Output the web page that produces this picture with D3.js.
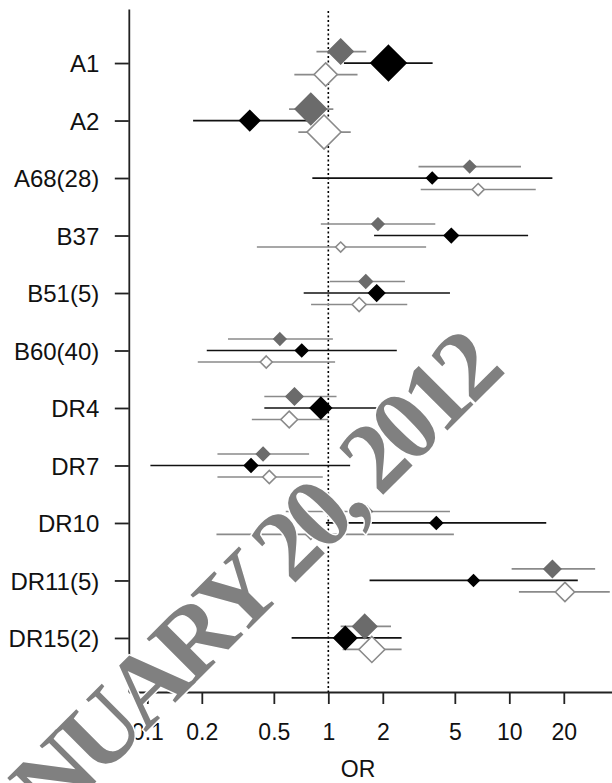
<!DOCTYPE html>
<html>
<head>
<meta charset="utf-8">
<script src="https://d3js.org/d3.v7.min.js"></script>
<style>
    body { margin: 0; background: #fff; }
    text { font-family: "Liberation Sans", Arial, sans-serif; fill: #111; }
    .axis path, .axis line { stroke: #222; stroke-width: 1.8px; }
    .axis text { font-size: 24px; }
</style>
</head>
<body>
<div id="chart"></div>
<script>
// categories, top to bottom
var categories = ["A1", "A2", "A68(28)", "B37", "B51(5)", "B60(40)", "DR4", "DR7", "DR10", "DR11(5)", "DR15(2)"];

// series 1 (dark grey, upper)
var greyOR = [1.17, 0.80, 6.04, 1.88, 1.61, 0.54, 0.65, 0.436, 1.64, 17.3, 1.59];
var greyLo = [0.86, 0.607, 3.15, 0.909, 1.02, 0.279, 0.443, 0.244, 0.582, 10.3, 1.17];
var greyHi = [1.62, 1.066, 11.6, 3.90, 2.65, 1.06, 1.11, 0.783, 4.70, 29.8, 2.22];
var greyW  = [0.62, 0.78, 0.30, 0.30, 0.33, 0.30, 0.42, 0.33, 0.25, 0.42, 0.60];

// series 2 (black, middle)
var blackOR = [2.15, 0.368, 3.75, 4.78, 1.85, 0.713, 0.909, 0.374, 3.95, 6.34, 1.24];
var blackLo = [1.22, 0.179, 0.816, 1.79, 0.731, 0.213, 0.443, 0.104, 0.97, 1.69, 0.627];
var blackHi = [3.77, 0.816, 17.3, 12.7, 4.70, 2.39, 1.85, 1.32, 16.0, 23.9, 2.54];
var blackW  = [0.88, 0.50, 0.28, 0.35, 0.40, 0.31, 0.53, 0.33, 0.31, 0.28, 0.57];

// series 3 (open, lower)
var openOR = [0.967, 0.947, 6.73, 1.17, 1.48, 0.454, 0.608, 0.472, 0.80, 20.3, 1.74];
var openLo = [0.649, 0.683, 3.24, 0.403, 0.803, 0.190, 0.378, 0.244, 0.241, 11.3, 1.20];
var openHi = [1.45, 1.33, 14.0, 3.47, 2.73, 1.09, 1.00, 0.932, 4.94, 35.9, 2.54];
var openW  = [0.58, 0.85, 0.30, 0.25, 0.35, 0.30, 0.42, 0.33, 0.25, 0.48, 0.65];

var xTicks = [0.1, 0.2, 0.5, 1, 2, 5, 10, 20];

var width = 612,
    height = 783;

var svg = d3.select("#chart").append("svg")
    .attr("width", width)
    .attr("height", height);

var x = d3.scaleLog()
    .domain([0.0790, 37.69])
    .range([128.8, 613.6]);

var y = d3.scaleLinear()
    .domain([0.06, 11.94])
    .range([9, 692]);

var size = d3.scaleLinear().domain([0, 1]).range([0, 20]);

// x axis
var xAxis = svg.append("g")
    .attr("class", "axis")
    .attr("transform", "translate(0,692)")
    .call(d3.axisBottom(x).tickValues(xTicks).tickFormat(function(d) { return d; })
        .tickSize(12).tickSizeOuter(0));
xAxis.selectAll("text").attr("y", 48).attr("dy", null).style("font-size", "23px");

// y axis
var yAxis = svg.append("g")
    .attr("class", "axis")
    .attr("transform", "translate(128.8,0)")
    .call(d3.axisLeft(y).tickValues(d3.range(1, categories.length + 1))
        .tickFormat(function(d) { return categories[d - 1]; })
        .tickSize(14).tickSizeOuter(0));
yAxis.selectAll("text").attr("x", -29.5).attr("dy", "0.37em");

svg.append("text")
    .attr("x", 358)
    .attr("y", 777)
    .attr("text-anchor", "middle")
    .style("font-size", "23px")
    .text("OR");

// reference line at OR = 1
svg.append("line")
    .attr("x1", x(1)).attr("x2", x(1))
    .attr("y1", 11).attr("y2", 692)
    .style("stroke", "#000")
    .style("stroke-width", 1.6)
    .style("stroke-dasharray", "2,2.5");

var series = [
    { or: greyOR, lo: greyLo, hi: greyHi, w: greyW, off: -0.2, line: "#8a8a8a", fill: "#6b6b6b", stroke: "#6b6b6b" },
    { or: blackOR, lo: blackLo, hi: blackHi, w: blackW, off: 0, line: "#111", fill: "#000", stroke: "#000" },
    { or: openOR, lo: openLo, hi: openHi, w: openW, off: 0.2, line: "#8a8a8a", fill: "#fff", stroke: "#8a8a8a" }
];

// confidence intervals
series.forEach(function(s) {
    svg.append("g").selectAll("line")
        .data(categories)
        .enter().append("line")
        .attr("x1", function(d, i) { return x(s.lo[i]); })
        .attr("x2", function(d, i) { return x(s.hi[i]); })
        .attr("y1", function(d, i) { return y(i + 1 + s.off); })
        .attr("y2", function(d, i) { return y(i + 1 + s.off); })
        .style("stroke", s.line)
        .style("stroke-width", 1.7);
});

// point estimates
series.forEach(function(s) {
    svg.append("g").selectAll("path")
        .data(categories)
        .enter().append("path")
        .attr("transform", function(d, i) {
            return "translate(" + x(s.or[i]) + "," + y(i + 1 + s.off) + ")";
        })
        .attr("d", function(d, i) {
            var r = size(s.w[i]);
            return "M0," + (-r) + "L" + r + ",0L0," + r + "L" + (-r) + ",0Z";
        })
        .style("fill", s.fill)
        .style("stroke", s.stroke)
        .style("stroke-width", 1.6);
});

// watermark
svg.append("text")
    .attr("transform", "translate(-25,903) rotate(-45)")
    .style("font-family", "'Liberation Serif', 'Times New Roman', serif")
    .style("font-weight", "bold")
    .style("font-size", "100px")
    .style("letter-spacing", "-6.5px")
    .style("fill", "#808080")
    .style("stroke", "#fff")
    .style("stroke-width", 3)
    .style("paint-order", "stroke")
    .text("JANUARY 20, 2012");
</script>
</body>
</html>
